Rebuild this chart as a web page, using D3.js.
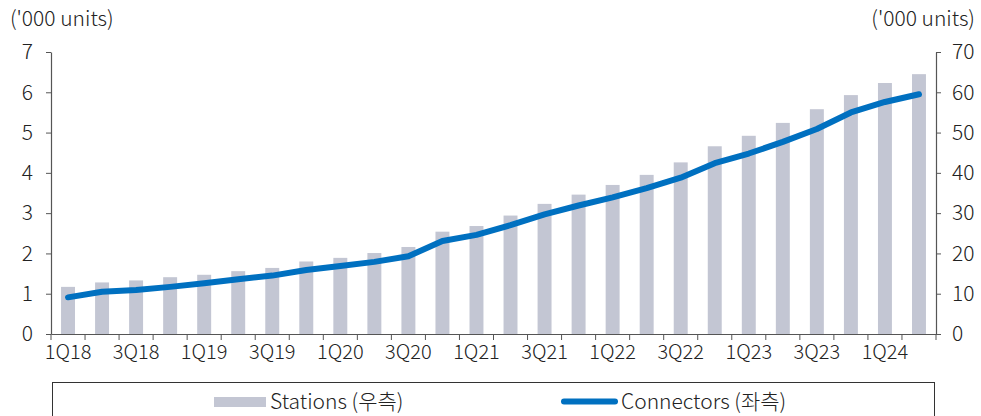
<!DOCTYPE html>
<html>
<head>
<meta charset="utf-8">
<script src="https://cdn.jsdelivr.net/npm/d3@7"></script>
<style>
  html, body { margin: 0; padding: 0; background: #fff; }
  svg text { font-family: "Noto Sans CJK KR", "Noto Sans", sans-serif; font-weight: 300; fill: #222; }
</style>
</head>
<body>
<svg id="chart" width="981" height="416"></svg>
<script>
// Quarterly categories
const quarters = ["1Q18","2Q18","3Q18","4Q18","1Q19","2Q19","3Q19","4Q19","1Q20","2Q20","3Q20","4Q20",
                  "1Q21","2Q21","3Q21","4Q21","1Q22","2Q22","3Q22","4Q22","1Q23","2Q23","3Q23","4Q23","1Q24","2Q24"];
// Stations, '000 units (right axis)
const stations = [11.7,12.8,13.3,14.1,14.7,15.6,16.4,18.0,18.9,20.1,21.6,25.4,26.8,29.4,32.3,34.6,
                  37.0,39.5,42.6,46.6,49.2,52.4,55.8,59.3,62.3,64.5];
// Connectors, '000 units (left axis)
const connectors = [0.91,1.05,1.09,1.17,1.26,1.36,1.45,1.59,1.69,1.79,1.93,2.31,2.46,2.70,2.97,3.19,
                    3.39,3.62,3.88,4.24,4.48,4.77,5.09,5.50,5.76,5.95];
const leftTicks = [0,1,2,3,4,5,6,7];
const rightTicks = [0,10,20,30,40,50,60,70];
const xLabels = quarters.filter((q, i) => i % 2 === 0);
const unitLabel = "('000 units)";
const seriesNames = ["Stations (우측)", "Connectors (좌측)"];

const barColor = "#c3c6d3";
const lineColor = "#0070c0";
const axisColor = "#555";
const fontSize = 21;

const svg = d3.select("#chart");
const plotLeft = 51, plotRight = 936, plotTop = 52, plotBottom = 334;

const x = d3.scaleBand().domain(quarters).range([plotLeft, plotRight]).padding(0);
const yL = d3.scaleLinear().domain([0, 7]).range([plotBottom, plotTop]);
const yR = d3.scaleLinear().domain([0, 70]).range([plotBottom, plotTop]);
const barW = x.bandwidth() * 0.41;

// Bars (right axis)
svg.append("g").selectAll("rect").data(stations).join("rect")
  .attr("x", (d, i) => x(quarters[i]) + (x.bandwidth() - barW) / 2)
  .attr("y", d => yR(d))
  .attr("width", barW)
  .attr("height", d => yR(0) - yR(d))
  .attr("fill", barColor);

// Line (left axis)
const line = d3.line()
  .x((d, i) => x(quarters[i]) + x.bandwidth() / 2)
  .y(d => yL(d));
svg.append("path").datum(connectors)
  .attr("d", line)
  .attr("fill", "none")
  .attr("stroke", lineColor)
  .attr("stroke-width", 6)
  .attr("stroke-linecap", "round")
  .attr("stroke-linejoin", "round");

// Left axis
const gL = svg.append("g").attr("transform", `translate(${plotLeft},0)`)
  .call(d3.axisLeft(yL).tickValues(leftTicks).tickFormat(d3.format("d"))
    .tickSize(5).tickPadding(13).tickSizeOuter(0));
// Right axis
const gR = svg.append("g").attr("transform", `translate(${plotRight},0)`)
  .call(d3.axisRight(yR).tickValues(rightTicks).tickFormat(d3.format("d"))
    .tickSize(5).tickPadding(11).tickSizeOuter(0));

// Bottom axis: labels on alternate quarters, ticks at category boundaries
const gX = svg.append("g").attr("transform", `translate(0,${plotBottom})`)
  .call(d3.axisBottom(x).tickValues(xLabels).tickSize(0).tickPadding(11).tickSizeOuter(0));
const boundaries = quarters.map(q => x(q)).concat([plotRight]);
gX.selectAll("line.bound").data(boundaries).join("line")
  .attr("class", "bound")
  .attr("x1", d => d).attr("x2", d => d)
  .attr("y1", 0).attr("y2", 6)
  .attr("stroke", axisColor);

[gL, gR, gX].forEach(g => {
  g.select(".domain").attr("stroke", axisColor).attr("stroke-width", 1.2);
  g.selectAll(".tick line").attr("stroke", axisColor);
  g.selectAll("text").attr("font-size", fontSize).attr("fill", "#222")
    .attr("font-family", "\"Noto Sans CJK KR\", \"Noto Sans\", sans-serif");
});
gX.selectAll("text").attr("font-size", 20);

// Axis unit titles
svg.append("text").attr("x", 10).attr("y", 26).attr("font-size", fontSize).text(unitLabel);
svg.append("text").attr("x", 975).attr("y", 26).attr("font-size", fontSize)
  .attr("text-anchor", "end").text(unitLabel);

// Legend
svg.append("rect").attr("x", 52.5).attr("y", 382.5).attr("width", 882).attr("height", 60)
  .attr("fill", "none").attr("stroke", "#333").attr("stroke-width", 1);
svg.append("rect").attr("x", 214).attr("y", 397).attr("width", 52).attr("height", 10)
  .attr("fill", barColor);
svg.append("text").attr("x", 270).attr("y", 409).attr("font-size", fontSize).text(seriesNames[0]);
svg.append("line").attr("x1", 564).attr("x2", 615).attr("y1", 401.5).attr("y2", 401.5)
  .attr("stroke", lineColor).attr("stroke-width", 6).attr("stroke-linecap", "round");
svg.append("text").attr("x", 621).attr("y", 409).attr("font-size", fontSize).text(seriesNames[1]);
</script>
</body>
</html>
